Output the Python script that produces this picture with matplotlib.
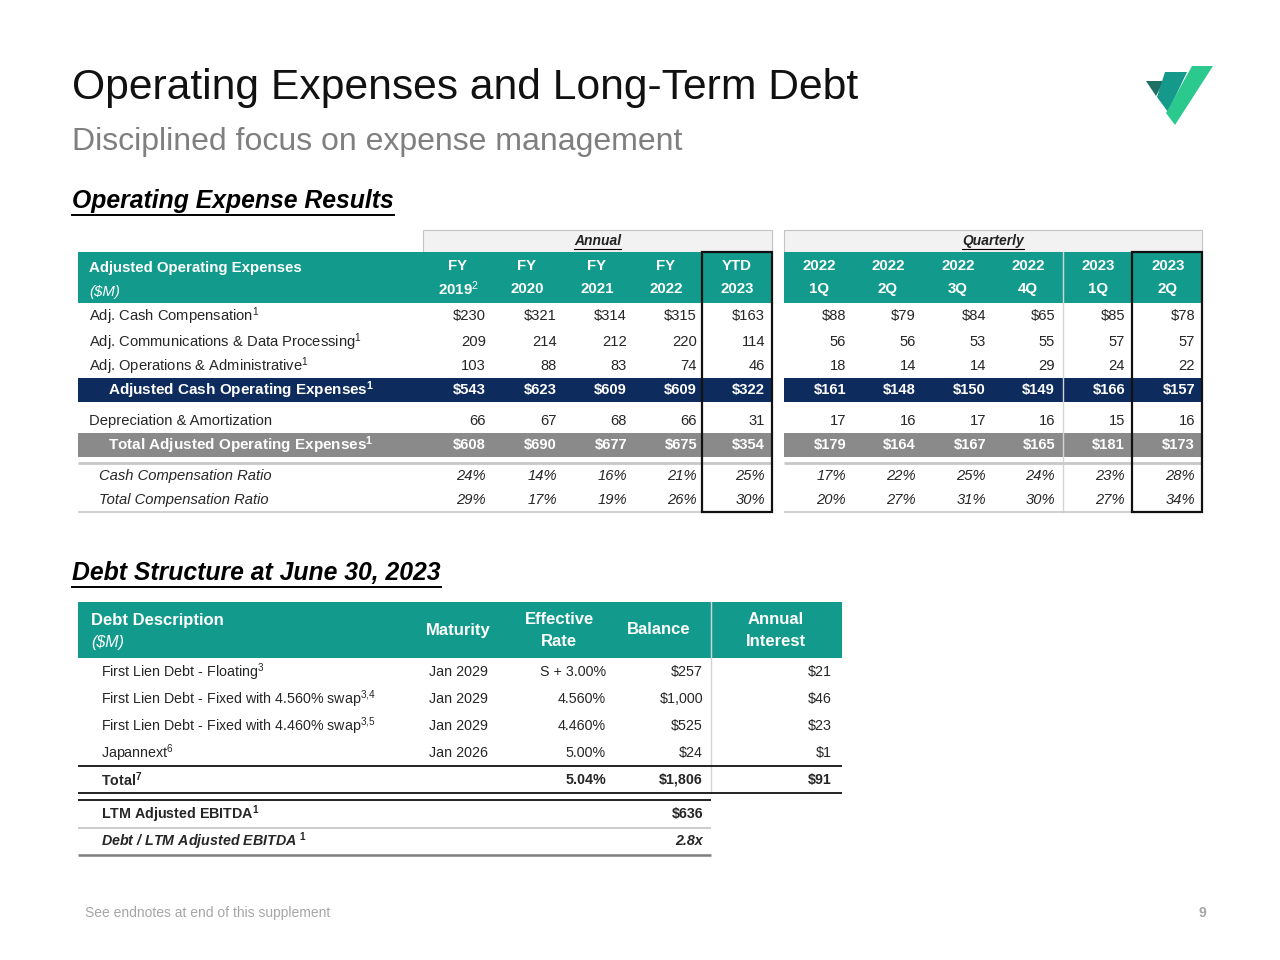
import matplotlib
matplotlib.use("Agg")
import matplotlib.pyplot as plt
from matplotlib.patches import Rectangle, Polygon

plt.rcParams['font.family'] = ['Liberation Sans', 'DejaVu Sans']
plt.rcParams['mathtext.fontset'] = 'custom'
plt.rcParams['mathtext.rm'] = 'Liberation Sans'
plt.rcParams['mathtext.it'] = 'Liberation Sans:italic'
plt.rcParams['mathtext.bf'] = 'Liberation Sans:bold'

# ---- data: operating expense table ----
period_top = ['FY', 'FY', 'FY', 'FY', 'YTD', '2022', '2022', '2022', '2022', '2023', '2023']
period_bot = ['2019$^{\\mathrm{2}}$', '2020', '2021', '2022', '2023', '1Q', '2Q', '3Q', '4Q', '1Q', '2Q']

cash_comp = [230, 321, 314, 315, 163, 88, 79, 84, 65, 85, 78]
comms_data = [209, 214, 212, 220, 114, 56, 56, 53, 55, 57, 57]
ops_admin = [103, 88, 83, 74, 46, 18, 14, 14, 29, 24, 22]
cash_opex = [543, 623, 609, 609, 322, 161, 148, 150, 149, 166, 157]
dep_amort = [66, 67, 68, 66, 31, 17, 16, 17, 16, 15, 16]
total_opex = [608, 690, 677, 675, 354, 179, 164, 167, 165, 181, 173]
cash_comp_ratio = [24, 14, 16, 21, 25, 17, 22, 25, 24, 23, 28]
total_comp_ratio = [29, 17, 19, 26, 30, 20, 27, 31, 30, 27, 34]

opex_labels = ['Adj. Cash Compensation$^{\\mathrm{1}}$',
               'Adj. Communications & Data Processing$^{\\mathrm{1}}$',
               'Adj. Operations & Administrative$^{\\mathrm{1}}$',
               'Adjusted Cash Operating Expenses$^{\\mathbf{1}}$',
               'Depreciation & Amortization',
               'Total Adjusted Operating Expenses$^{\\mathbf{1}}$',
               'Cash Compensation Ratio',
               'Total Compensation Ratio']

# ---- data: debt table ----
debt_names = ['First Lien Debt - Floating$^{\\mathrm{3}}$',
              'First Lien Debt - Fixed with 4.560% swap$^{\\mathrm{3{,}4}}$',
              'First Lien Debt - Fixed with 4.460% swap$^{\\mathrm{3{,}5}}$',
              'Japannext$^{\\mathrm{6}}$']
debt_maturity = ['Jan 2029', 'Jan 2029', 'Jan 2029', 'Jan 2026']
debt_rate = ['S + 3.00%', '4.560%', '4.460%', '5.00%']
debt_balance = [257, 1000, 525, 24]
debt_interest = [21, 46, 23, 1]
total_rate = 5.04
total_balance = 1806
total_interest = 91
ltm_ebitda = 636
leverage = 2.8

TEAL = '#129b8c'
NAVY = '#0d2b5c'
GREY = '#8a8a8a'
TXT = '#262626'

fig = plt.figure(figsize=(12.8, 9.6), dpi=100)
ax = fig.add_axes([0, 0, 1, 1])
ax.set_xlim(0, 1280)
ax.set_ylim(960, 0)
ax.axis('off')


def txt(x, y, s, size=10.5, weight='normal', style='normal', color=TXT, ha='left', va='center'):
    return ax.text(x, y, s, fontsize=size, fontweight=weight, fontstyle=style,
                   color=color, ha=ha, va=va)


def box(x0, y0, x1, y1, fc, ec='none', lw=0, z=1):
    ax.add_patch(Rectangle((x0, y0), x1 - x0, y1 - y0, facecolor=fc, edgecolor=ec, lw=lw, zorder=z))


def hline(y, x0, x1, color, lw=1.0, z=3):
    ax.plot([x0, x1], [y, y], color=color, lw=lw, zorder=z, solid_capstyle='butt')


def underline(t, color='black', lw=1.0, off=2):
    r = fig.canvas.get_renderer()
    bb = t.get_window_extent(renderer=r).transformed(ax.transData.inverted())
    yb = max(bb.y0, bb.y1) + off
    ax.plot([bb.x0, bb.x1], [yb, yb], color=color, lw=lw)


# ---- title area ----
txt(72, 88, 'Operating Expenses and Long-Term Debt', size=30.7, color='#111111')
txt(72, 142, 'Disciplined focus on expense management', size=23, color='#7f7f7f')

ax.add_patch(Polygon([(1146, 81), (1164, 81), (1156, 96)], closed=True, fc='#1f6f64', ec='none'))
ax.add_patch(Polygon([(1165, 72), (1187, 72), (1168, 112), (1157, 97)], closed=True, fc='#14998a', ec='none'))
ax.add_patch(Polygon([(1192, 66), (1213, 66), (1175, 125), (1166, 113)], closed=True, fc='#2bc98e', ec='none'))

t = txt(72, 201, 'Operating Expense Results', size=17.8, weight='bold', style='italic', color='black')
underline(t, lw=1.4)

# ---- operating expense table ----
xr = [486, 557, 627, 697, 765, 846, 916, 986, 1055, 1125, 1195]
xc = [458, 527, 597, 666, 737, 819, 888, 958, 1028, 1098, 1168]
ann = (78, 772)
qtr = (784, 1202)
ann_hdr = (423, 772)

box(ann_hdr[0], 230, ann_hdr[1], 252, '#f2f2f2', '#c4c4c4', 0.8)
box(qtr[0], 230, qtr[1], 252, '#f2f2f2', '#c4c4c4', 0.8)
t = txt(sum(ann_hdr) / 2, 241, 'Annual', size=10, weight='bold', style='italic', color='#222222', ha='center')
underline(t, lw=0.8, off=1)
t = txt(sum(qtr) / 2, 241, 'Quarterly', size=10, weight='bold', style='italic', color='#222222', ha='center')
underline(t, lw=0.8, off=1)

for a, b in (ann, qtr):
    box(a, 252, b, 303, TEAL)
    box(a, 378, b, 402, NAVY)
    box(a, 433, b, 457, GREY)
    hline(463, a, b, '#c8c8c8', 2.0)
    hline(512, a, b, '#c8c8c8', 1.2)

ax.plot([1063, 1063], [252, 512], color='#d4d4d4', lw=1.0, zorder=2)

txt(89, 268, 'Adjusted Operating Expenses', size=10.8, weight='bold', color='white')
txt(89, 292, '($M)', size=10.8, style='italic', color='white')
for i in range(len(xc)):
    txt(xc[i], 266, period_top[i], size=10.8, weight='bold', color='white', ha='center')
    txt(xc[i], 289, period_bot[i], size=10.8, weight='bold', color='white', ha='center')

row_y = [316, 342, 366, 390, 421, 445, 476, 500]
rows = [cash_comp, comms_data, ops_admin, cash_opex, dep_amort, total_opex,
        cash_comp_ratio, total_comp_ratio]
for r, (lab, vals, y) in enumerate(zip(opex_labels, rows, row_y)):
    bold = r in (3, 5)
    ital = r >= 6
    lx = 108 if bold else (99 if ital else 89)
    col = 'white' if bold else TXT
    txt(lx, y, lab, size=11 if bold else 10.6, weight='bold' if bold else 'normal',
        style='italic' if ital else 'normal', color=col)
    for i, v in enumerate(vals):
        if ital:
            s = '%d%%' % v
        elif r in (0, 3, 5):
            s = '$%d' % v
        else:
            s = '%d' % v
        txt(xr[i], y, s, size=10.6, weight='bold' if bold else 'normal',
            style='italic' if ital else 'normal', color=col, ha='right')

for x0 in (702, 1132):
    box(x0, 252, x0 + 70, 512, 'none', '#111111', 1.6, z=5)

# ---- debt table ----
t = txt(72, 573, 'Debt Structure at June 30, 2023', size=17.8, weight='bold', style='italic', color='black')
underline(t, lw=1.4)

box(78, 602, 842, 658, TEAL)
ax.plot([711, 711], [602, 793], color='#d4d4d4', lw=1.0, zorder=2)
txt(91, 620, 'Debt Description', size=12, weight='bold', color='white')
txt(91, 642, '($M)', size=11.5, style='italic', color='white')
txt(458, 630, 'Maturity', size=12, weight='bold', color='white', ha='center')
txt(559, 619, 'Effective', size=12, weight='bold', color='white', ha='center')
txt(559, 641, 'Rate', size=12, weight='bold', color='white', ha='center')
txt(659, 630, 'Balance', size=12, weight='bold', color='white', ha='center')
txt(776, 619, 'Annual', size=12, weight='bold', color='white', ha='center')
txt(776, 641, 'Interest', size=12, weight='bold', color='white', ha='center')

debt_y = [672, 699, 726, 753]
for i, y in enumerate(debt_y):
    txt(101, y, debt_names[i], size=10.3)
    txt(429, y, debt_maturity[i], size=10.3)
    txt(606, y, debt_rate[i], size=10.3, ha='right')
    txt(703, y, '${:,}'.format(debt_balance[i]), size=10.3, ha='right')
    txt(832, y, '${:,}'.format(debt_interest[i]), size=10.3, ha='right')

hline(766, 78, 842, '#111111', 1.3)
txt(101, 780, 'Total$^{\\mathbf{7}}$', size=10.3, weight='bold')
txt(606, 780, '%.2f%%' % total_rate, size=10.3, weight='bold', ha='right')
txt(703, 780, '${:,}'.format(total_balance), size=10.3, weight='bold', ha='right')
txt(832, 780, '${:,}'.format(total_interest), size=10.3, weight='bold', ha='right')
hline(793, 78, 842, '#111111', 1.3)
hline(800, 78, 711, '#111111', 1.3)

txt(101, 814, 'LTM Adjusted EBITDA$^{\\mathbf{1}}$', size=10.3, weight='bold')
txt(703, 814, '${:,}'.format(ltm_ebitda), size=10.3, weight='bold', ha='right')
hline(828, 78, 711, '#c4c4c4', 1.2)
txt(101, 841, 'Debt / LTM Adjusted EBITDA $^{\\mathbf{1}}$', size=10.3, weight='bold', style='italic')
txt(703, 841, '%.1fx' % leverage, size=10.3, weight='bold', style='italic', ha='right')
hline(855, 78, 711, '#7f7f7f', 1.8)

# ---- footer ----
txt(85, 913, 'See endnotes at end of this supplement', size=10, color='#a6a6a6')
txt(1206, 913, '9', size=10, weight='bold', color='#a6a6a6', ha='right')

fig.savefig('out.png', dpi=100, facecolor='white')
